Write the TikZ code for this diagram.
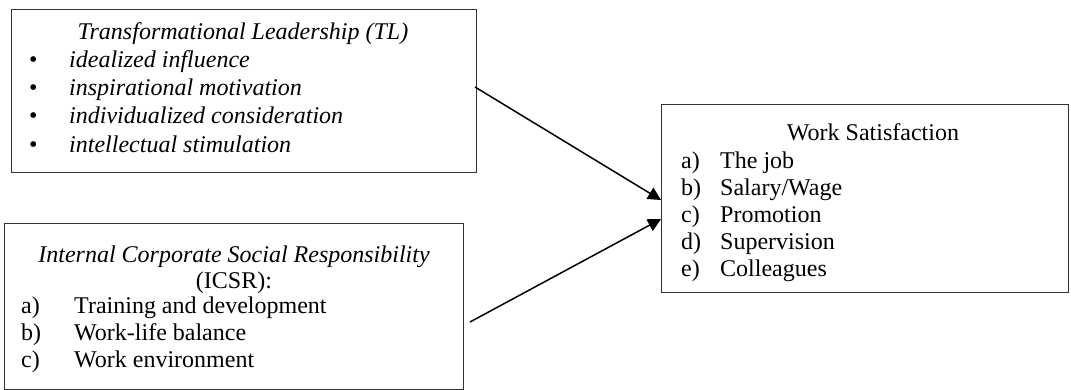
\documentclass[tikz,border=0pt]{standalone}
\usepackage{fontspec}
\setmainfont{Liberation Serif}
\usetikzlibrary{arrows.meta}
\begin{document}
\begin{tikzpicture}[x=1pt,y=-1pt,
  box/.style={draw=black!80, line width=1pt, anchor=north west, inner sep=0pt},
  txt/.style={anchor=base west, inner sep=0pt, font=\fontsize{24}{28}\selectfont},
  ttl/.style={anchor=base, inner sep=0pt, font=\fontsize{24}{28}\selectfont},
  link/.style={line width=1.5pt, -{Triangle[length=13pt,width=13pt]}}]
\useasboundingbox (0,0) rectangle (1071,389);

% Transformational Leadership box
\node[box, minimum width=465pt, minimum height=163pt] (tl) at (11,9) {};
\node[ttl] (tlh) at (243,39) {\itshape Transformational Leadership (TL)};
\foreach \y/\t [count=\i] in {67/idealized influence,95/inspirational motivation,123/individualized consideration,152/intellectual stimulation}{
  \node[txt] (tlb\i) at (29,\y) {•};
  \node[txt] (tli\i) at (69,\y) {\itshape \t};
}

% Internal CSR box
\node[box, minimum width=459pt, minimum height=166pt] (icsr) at (4,223) {};
\node[ttl] (icsrh) at (234,262) {\itshape Internal Corporate Social Responsibility};
\node[ttl] (icsrh2) at (234,288) {(ICSR):};
\foreach \y/\l/\t [count=\i] in {313/a)/Training and development,340/b)/Work-life balance,367/c)/Work environment}{
  \node[txt] (icl\i) at (21,\y) {\l};
  \node[txt] (ici\i) at (74,\y) {\t};
}

% Work Satisfaction box
\node[box, minimum width=407pt, minimum height=188pt] (ws) at (661,104) {};
\node[ttl] (wsh) at (873,140) {Work Satisfaction};
\foreach \y/\l/\t [count=\i] in {168/a)/The job,195/b)/{Salary/Wage},222/c)/Promotion,249/d)/Supervision,276/e)/Colleagues}{
  \node[txt] (wsl\i) at (681,\y) {\l};
  \node[txt] (wsi\i) at (720,\y) {\t};
}

% Paths into Work Satisfaction
\coordinate (s1) at (475,87);
\coordinate (s2) at (470,322);
\coordinate (e1) at (661,200);
\coordinate (e2) at (661,219);
\draw[link] (s1) -- (e1);
\draw[link] (s2) -- (e2);
\end{tikzpicture}
\end{document}
